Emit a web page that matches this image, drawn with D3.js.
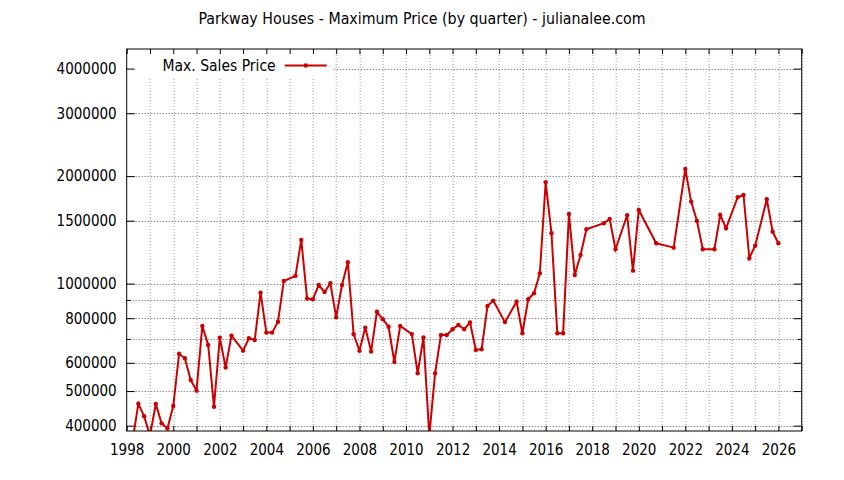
<!DOCTYPE html>
<html>
<head>
<meta charset="utf-8">
<script src="https://cdn.jsdelivr.net/npm/d3@7"></script>
<style>
  body { margin: 0; background: #fff; }
  svg { display: block; }
  text { font-family: 'DejaVu Sans Condensed', 'Liberation Sans', sans-serif; font-size: 15px; fill: #000; }
</style>
</head>
<body>
<div id="chart"></div>
<script>
// quarter positions (decimal year) and max sale price per quarter
const quarters = [
  1998.25, 1998.5, 1998.75, 1999.0, 1999.25, 1999.5, 1999.75,
  2000.0, 2000.25, 2000.5, 2000.75, 2001.0, 2001.25, 2001.5, 2001.75,
  2002.0, 2002.25, 2002.5, 2003.0, 2003.25, 2003.5, 2003.75,
  2004.0, 2004.25, 2004.5, 2004.75, 2005.25, 2005.5, 2005.75,
  2006.0, 2006.25, 2006.5, 2006.75, 2007.0, 2007.25, 2007.5, 2007.75,
  2008.0, 2008.25, 2008.5, 2008.75, 2009.0, 2009.25, 2009.5, 2009.75,
  2010.25, 2010.5, 2010.75, 2011.0, 2011.25, 2011.5, 2011.75,
  2012.0, 2012.25, 2012.5, 2012.75, 2013.0, 2013.25, 2013.5, 2013.75,
  2014.25, 2014.75, 2015.0, 2015.25, 2015.5, 2015.75,
  2016.0, 2016.25, 2016.5, 2016.75, 2017.0, 2017.25, 2017.5, 2017.75,
  2018.5, 2018.75, 2019.0, 2019.5, 2019.75, 2020.0, 2020.75, 2021.5,
  2022.0, 2022.25, 2022.5, 2022.75, 2023.25, 2023.5, 2023.75,
  2024.25, 2024.5, 2024.75, 2025.0, 2025.5, 2025.75, 2026.0
];
const maxPrice = [
  362000, 461000, 425000, 375000, 460000, 406000, 393000,
  454000, 636000, 618000, 537000, 502000, 761000, 673000, 452000,
  706000, 582000, 715000, 649000, 703000, 695000, 943000,
  729000, 729000, 782000, 1017000, 1051000, 1325000, 908000,
  904000, 991000, 947000, 1002000, 805000, 991000, 1148000, 721000,
  649000, 753000, 645000, 834000, 795000, 757000, 603000, 761000,
  722000, 561000, 707000, 375000, 561000, 718000, 718000,
  745000, 766000, 745000, 778000, 652000, 655000, 866000, 896000,
  780000, 890000, 726000, 904000, 940000, 1069000,
  1923000, 1383000, 726000, 726000, 1567000, 1057000, 1203000, 1420000,
  1476000, 1517000, 1248000, 1554000, 1087000, 1608000, 1297000, 1261000,
  2094000, 1697000, 1498000, 1248000, 1248000, 1557000, 1429000,
  1745000, 1771000, 1178000, 1277000, 1723000, 1398000, 1297000
];
const yTicks = [400000, 500000, 600000, 700000, 800000, 900000, 1000000, 1500000, 2000000, 3000000, 4000000];
const yLabelled = [400000, 500000, 600000, 800000, 1000000, 1500000, 2000000, 3000000, 4000000];
const xTicks = d3.range(1998, 2028, 1);
const xLabelled = d3.range(1998, 2028, 2);

const title = 'Parkway Houses - Maximum Price (by quarter) - julianalee.com';
const seriesName = 'Max. Sales Price';

const width = 844, height = 480;
const margin = { top: 49, right: 42.3, bottom: 49, left: 126.7 };
const innerW = width - margin.left - margin.right;
const innerH = height - margin.top - margin.bottom;
const red = '#cc0000';

const data = quarters.map((q, i) => ({ q: q, v: maxPrice[i] }));

const x = d3.scaleLinear().domain([1998, 2027]).range([0, innerW]);
const y = d3.scaleLog().domain([386500, 4540000]).range([innerH, 0]);

const svg = d3.select('#chart').append('svg')
  .attr('width', width)
  .attr('height', height);

svg.append('rect').attr('width', width).attr('height', height).attr('fill', '#fff');

svg.append('text')
  .attr('x', width / 2)
  .attr('y', 24)
  .attr('text-anchor', 'middle')
  .style('font-size', '15.8px')
  .text(title);

const g = svg.append('g').attr('transform', `translate(${margin.left},${margin.top})`);

g.append('clipPath').attr('id', 'clip')
  .append('rect').attr('width', innerW).attr('height', innerH);

// grid
const grid = g.append('g').attr('class', 'grid');
grid.selectAll('line.h').data(yTicks).join('line')
  .attr('class', 'h')
  .attr('x1', 0).attr('x2', innerW)
  .attr('y1', d => Math.round(y(d)) + 0.5).attr('y2', d => Math.round(y(d)) + 0.5)
  .attr('stroke', '#555').attr('stroke-width', 1).attr('stroke-dasharray', '1,2');
grid.selectAll('line.v').data(xTicks.slice(1)).join('line')
  .attr('class', 'v')
  .attr('y1', 0).attr('y2', innerH)
  .attr('x1', d => Math.round(x(d)) + 0.5).attr('x2', d => Math.round(x(d)) + 0.5)
  .attr('stroke', '#999').attr('stroke-width', 1).attr('stroke-dasharray', '1,2');

// legend box hides the grid behind it
g.append('rect')
  .attr('x', 0).attr('y', 0)
  .attr('width', 207).attr('height', 29)
  .attr('fill', '#fff');

// axes, gnuplot style: ticks point inward, mirrored on top/right
const fmt = d3.format('d');
const xAxis = d3.axisBottom(x).tickValues(xTicks).tickSize(-5).tickPadding(13)
  .tickFormat(d => xLabelled.includes(d) ? fmt(d) : '');
const xTop = d3.axisTop(x).tickValues(xTicks).tickSize(-5).tickFormat('');
const yAxis = d3.axisLeft(y).tickValues(yTicks).tickSize(-8).tickPadding(10)
  .tickFormat(d => yLabelled.includes(d) ? fmt(d) : '');
const yRight = d3.axisRight(y).tickValues(yTicks).tickSize(-8).tickFormat('');

function styleAxis(sel) {
  sel.select('.domain').remove();
  sel.selectAll('.tick line').attr('stroke', '#000');
  sel.selectAll('text').attr('font-size', null).attr('font-family', null);
}

g.append('g').attr('transform', `translate(0,${innerH})`).call(xAxis).call(styleAxis);
g.append('g').call(xTop).call(styleAxis);
g.append('g').call(yAxis).call(styleAxis);
g.append('g').attr('transform', `translate(${innerW},0)`).call(yRight).call(styleAxis);

// shorter minor ticks at 700k / 900k
g.selectAll('.tick').filter(d => d === 700000 || d === 900000).select('line')
  .attr('x2', function () { return +d3.select(this).attr('x2') / 2; });

// series
const line = d3.line().x(d => x(d.q)).y(d => y(d.v));
const plot = g.append('g').attr('clip-path', 'url(#clip)');
plot.append('path')
  .datum(data)
  .attr('d', line)
  .attr('fill', 'none')
  .attr('stroke', red)
  .attr('stroke-width', 2)
  .attr('stroke-linejoin', 'miter');
plot.selectAll('circle').data(data).join('circle')
  .attr('cx', d => x(d.q))
  .attr('cy', d => y(d.v))
  .attr('r', 2.2)
  .attr('fill', red);

// border
g.append('rect')
  .attr('width', innerW).attr('height', innerH)
  .attr('fill', 'none').attr('stroke', '#000').attr('stroke-width', 1);

// legend
const legend = g.append('g').attr('transform', 'translate(0,16.5)');
legend.append('text')
  .attr('x', 149).attr('y', 5)
  .attr('text-anchor', 'end')
  .style('font-size', '15.5px')
  .text(seriesName);
legend.append('line')
  .attr('x1', 158).attr('x2', 200)
  .attr('stroke', red).attr('stroke-width', 2);
legend.append('circle')
  .attr('cx', 179).attr('r', 2.2).attr('fill', red);
</script>
</body>
</html>
